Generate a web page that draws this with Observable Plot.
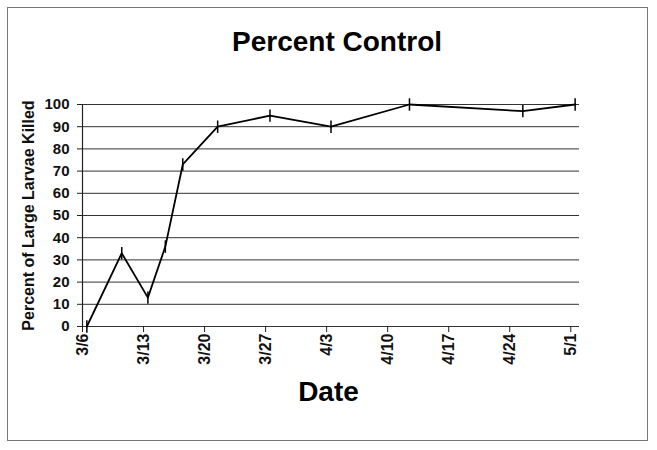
<!DOCTYPE html>
<html>
<head>
<meta charset="utf-8">
<script src="https://cdn.jsdelivr.net/npm/d3@7"></script>
<script src="https://cdn.jsdelivr.net/npm/@observablehq/plot@0.6"></script>
<style>
  html, body { margin: 0; padding: 0; background: #fff; }
  #wrap { position: relative; width: 657px; height: 450px; font-family: "Liberation Sans", Arial, sans-serif; }
  #frame { position: absolute; left: 7px; top: 7px; width: 641px; height: 434px; border: 1px solid #777; box-sizing: border-box; pointer-events: none; }
  #title { position: absolute; left: 0; width: 674px; top: 26px; text-align: center; font-weight: bold; font-size: 28px; }
  #xtitle { position: absolute; left: 0; width: 657px; top: 376px; text-align: center; font-weight: bold; font-size: 28px; }
  #wrap svg { position: absolute; left: 0; top: 0; }
</style>
</head>
<body>
<div id="wrap">
  <div id="title">Percent Control</div>
  <div id="xtitle">Date</div>
  <div id="frame"></div>
</div>
<script>
const dates = ["2004-03-06","2004-03-10","2004-03-13","2004-03-15","2004-03-17","2004-03-21","2004-03-27","2004-04-03","2004-04-12","2004-04-25","2004-05-01"];
const killed = [0, 33, 13, 36, 73, 90, 95, 90, 100, 97, 100];
const tickDates = ["2004-03-06","2004-03-13","2004-03-20","2004-03-27","2004-04-03","2004-04-10","2004-04-17","2004-04-24","2004-05-01"];
const yTicks = [0,10,20,30,40,50,60,70,80,90,100];

const parse = d3.utcParse("%Y-%m-%d");
const data = dates.map((d, i) => ({date: parse(d), value: killed[i]}));
const halfDay = 12 * 3600 * 1000;
const xPos = d => new Date(d.date.getTime() + halfDay);
const fmt = d3.utcFormat("%-m/%-d");

const vbar = {
  draw(ctx, size) {
    const r = Math.sqrt(size);
    ctx.moveTo(0, -r); ctx.lineTo(0, r);
  }
};

const chart = Plot.plot({
  width: 657,
  height: 450,
  marginLeft: 82,
  marginRight: 78,
  marginTop: 104,
  marginBottom: 124,
  style: {fontFamily: "'Liberation Sans', Arial, sans-serif", background: "transparent", overflow: "visible"},
  x: {type: "utc", domain: [parse("2004-03-06"), parse("2004-05-02")]},
  y: {domain: [0, 100]},
  marks: [
    Plot.ruleY(yTicks, {stroke: "#333", strokeWidth: 1}),
    Plot.ruleX([parse("2004-03-06")], {stroke: "#222", strokeWidth: 1.2}),
    Plot.axisY({ticks: yTicks, tickSize: 5, tickPadding: 8, label: null, fontSize: 15, fontWeight: "bold", fill: "#111", stroke: "#222"}),
    Plot.axisX({ticks: tickDates.map(parse), tickFormat: fmt, tickSize: 6, tickRotate: -90, tickPadding: 1, label: null, fontSize: 16, fontWeight: "bold", fill: "#111", stroke: "#222"}),
    Plot.text(["Percent of Large Larvae Killed"], {frameAnchor: "left", textAnchor: "middle", dx: -54, rotate: -90, fontSize: 16, fontWeight: "bold", fill: "#111"}),
    Plot.line(data, {x: xPos, y: "value", stroke: "#000", strokeWidth: 1.8}),
    Plot.dot(data, {x: xPos, y: "value", symbol: vbar, r: 3.5, stroke: "#000", strokeWidth: 1.5})
  ]
});
document.getElementById("wrap").insertBefore(chart, document.getElementById("frame"));
</script>
</body>
</html>
